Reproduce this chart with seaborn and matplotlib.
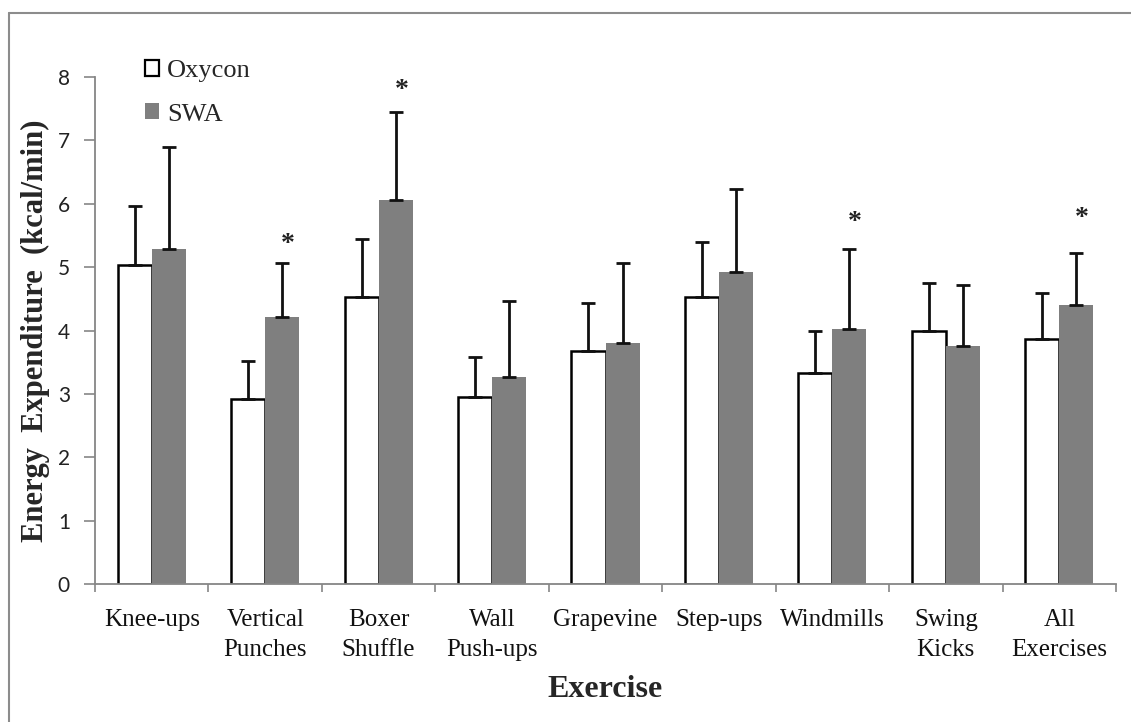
import numpy as np
import pandas as pd
import matplotlib
matplotlib.use("Agg")
import matplotlib.pyplot as plt
from matplotlib.patches import Patch
from matplotlib.lines import Line2D
import seaborn as sns

# ---- data ----
exercises = ["Knee-ups", "Vertical\nPunches", "Boxer\nShuffle", "Wall\nPush-ups",
             "Grapevine", "Step-ups", "Windmills", "Swing\nKicks", "All\nExercises"]
methods = ["Oxycon", "SWA"]
oxycon_mean = [5.03, 2.92, 4.53, 2.95, 3.68, 4.53, 3.33, 3.99, 3.87]
oxycon_sd = [0.93, 0.60, 0.91, 0.63, 0.75, 0.86, 0.66, 0.76, 0.72]
swa_mean = [5.29, 4.22, 6.06, 3.27, 3.81, 4.92, 4.03, 3.75, 4.41]
swa_sd = [1.61, 0.85, 1.39, 1.20, 1.26, 1.32, 1.26, 0.97, 0.82]
star_idx = [1, 2, 6, 8]
star_y = [5.36, 7.79, 5.70, 5.77]
yticks = [0, 1, 2, 3, 4, 5, 6, 7, 8]

df = pd.DataFrame({
    "Exercise": exercises * 2,
    "Method": ["Oxycon"] * len(exercises) + ["SWA"] * len(exercises),
    "EE": oxycon_mean + swa_mean,
})

sns.set_style("white")
serif = ["Liberation Serif", "DejaVu Serif"]

fig = plt.figure(figsize=(11.31, 7.22), dpi=100)
ax = fig.add_axes([95/1131, 1-584/722, (1116-95)/1131, (584-77)/722])

gray = "#7f7f7f"
sns.barplot(data=df, x="Exercise", y="EE", hue="Method", hue_order=methods,
            palette={"Oxycon": "white", "SWA": gray}, errorbar=None,
            width=0.6, ax=ax, legend=False, saturation=1)

conts = ax.containers
for p in conts[0]:
    p.set_edgecolor("black")
    p.set_linewidth(1.8)
for p in conts[1]:
    p.set_edgecolor("none")

# error bars (upper only)
for cont, means, sds in [(conts[0], oxycon_mean, oxycon_sd), (conts[1], swa_mean, swa_sd)]:
    xs = [p.get_x() + p.get_width()/2 for p in cont]
    ax.errorbar(xs, means, yerr=[np.zeros(len(sds)), sds], fmt="none",
                ecolor="#111111", elinewidth=2, capsize=5, capthick=2, zorder=5)

# significance stars
swa_x = [p.get_x() + p.get_width()/2 for p in conts[1]]
for i, yv in zip(star_idx, star_y):
    ax.text(swa_x[i] + 0.05, yv, "*", ha="center", va="center",
            fontsize=20, fontweight="bold", family=serif, color="#222222")

ax.set_ylim(0, 8)
ax.set_xlim(-0.5, len(exercises) - 0.5)
ax.set_yticks(yticks)
ax.set_yticklabels([str(v) for v in yticks], family=["Lato", "DejaVu Sans"],
                   fontsize=15, color="#222222")
ax.set_xticks(range(len(exercises)))
ax.set_xticklabels(exercises, family=serif, fontsize=18, color="#111111",
                   linespacing=1.48)
ax.set_xticks(np.arange(-0.5, len(exercises)), minor=True)
ax.tick_params(axis="x", which="major", length=0, pad=18)
ax.tick_params(axis="x", which="minor", length=6, width=1.2, color="#868686",
               direction="out", bottom=True)
ax.tick_params(axis="y", length=8, width=1.2, color="#868686", direction="out",
               left=True, pad=10)

for s in ["top", "right"]:
    ax.spines[s].set_visible(False)
for s in ["left", "bottom"]:
    ax.spines[s].set_color("#868686")
    ax.spines[s].set_linewidth(1.3)

ax.set_xlabel("Exercise", family=serif, fontsize=23, fontweight="bold", labelpad=10)
ax.set_ylabel("Energy  Expenditure  (kcal/min)", family=serif, fontsize=22,
              fontweight="bold", labelpad=6)

handles = [Patch(facecolor="white", edgecolor="black", linewidth=1.6),
           Patch(facecolor=gray, edgecolor="none")]
fig.legend(handles, methods, loc="upper left", bbox_to_anchor=(0.128, 0.917),
           frameon=False, prop={"family": serif, "size": 19},
           handlelength=0.55, handleheight=0.55, handletextpad=0.3,
           labelspacing=0.8, borderpad=0, borderaxespad=0)

# outer frame
fig.add_artist(Line2D([9/1131, 9/1131], [0, 1-13/722], transform=fig.transFigure,
                      color="#8c8c8c", linewidth=1.5))
fig.add_artist(Line2D([9/1131, 1], [1-13/722, 1-13/722], transform=fig.transFigure,
                      color="#8c8c8c", linewidth=1.5))

fig.savefig("out.png", dpi=100)
